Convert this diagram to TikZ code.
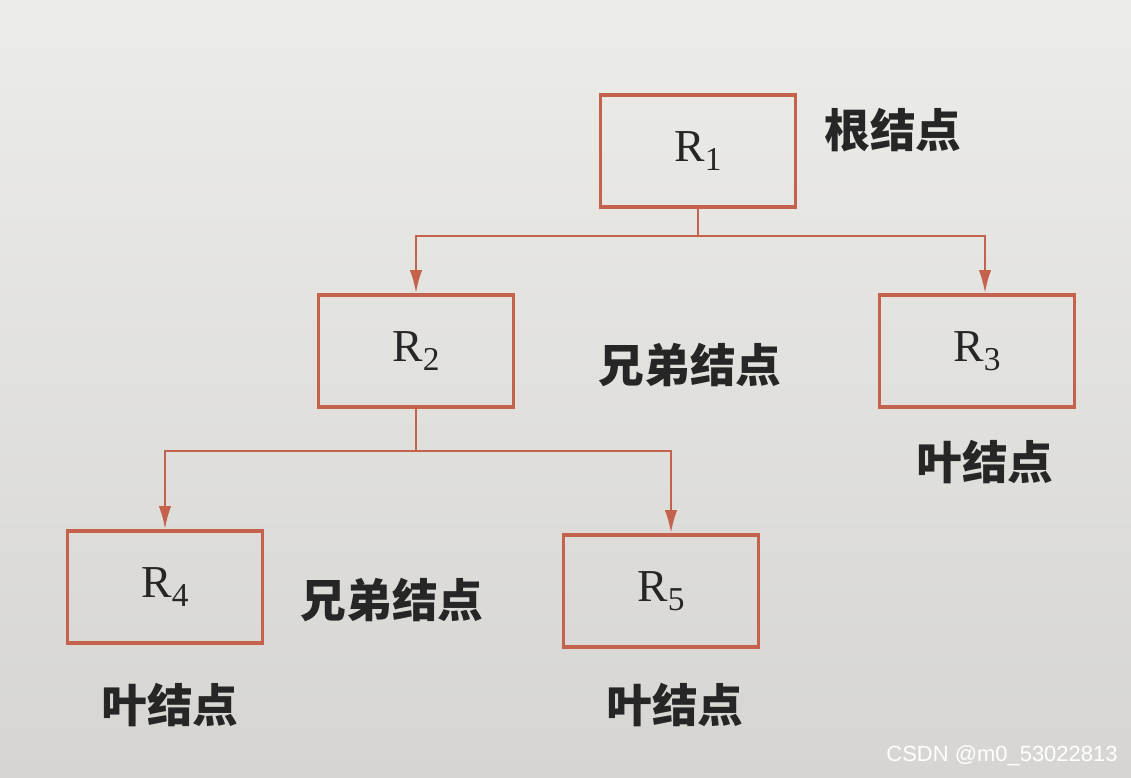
\documentclass[tikz,border=0pt]{standalone}
\usepackage{fontspec}
\setmainfont{Liberation Serif}
\newfontfamily\cjk{Noto Sans CJK SC}
\newfontfamily\wmfont{Liberation Sans}
\usetikzlibrary{arrows.meta}
\definecolor{boxred}{RGB}{196,98,78}
\definecolor{inkdark}{RGB}{38,38,38}
\definecolor{papertop}{RGB}{236,236,233}
\definecolor{paperbot}{RGB}{214,213,209}
\newcommand{\Rsub}[1]{R\raisebox{-0.45ex}{\fontsize{19}{20}\selectfont #1}}

\begin{document}
\begin{tikzpicture}[
    x=0.02cm, y=-0.02cm, >={Latex[length=13pt, width=7pt]},
    bx/.style={rectangle, draw=boxred, line width=2.2pt, minimum width=3.9cm,
               minimum height=2.24cm, font=\fontsize{26}{28}\selectfont, text=inkdark},
    lbl/.style={font=\cjk\bfseries\fontsize{26}{28}\selectfont, text=inkdark, inner sep=0pt},
    ln/.style={draw=boxred, line width=1.3pt},
    arr/.style={->, ln}
]
\shade[top color=papertop, bottom color=paperbot] (0,0) rectangle (1131,777);
\useasboundingbox (0,0) rectangle (1131,777);

\node[bx] (r1) at (698,151) {\Rsub{1}};
\node[bx] (r2) at (416,351) {\Rsub{2}};
\node[bx] (r3) at (977,351) {\Rsub{3}};
\node[bx] (r4) at (165,587) {\Rsub{4}};
\node[bx] (r5) at (661,591) {\Rsub{5}};

\node[lbl] (t1) at (893,130) {根结点};
\node[lbl] (t2) at (690,365) {兄弟结点};
\node[lbl] (t3) at (985,462) {叶结点};
\node[lbl] (t4) at (392,600) {兄弟结点};
\node[lbl] (t5) at (170,705) {叶结点};
\node[lbl] (t6) at (675,705) {叶结点};
\node[font=\wmfont\fontsize{12.5}{14}\selectfont, text=white] (wm) at (1002,756) {CSDN @m0\_53022813};

\draw[ln] (r1.south) -- ++(0,27) coordinate (j1);
\draw[arr] (j1) -| (r2.north);  \draw[arr] (j1) -| ([xshift=0.16cm]r3.north);
\draw[ln] (r2.south) -- ++(0,42) coordinate (j2);
\draw[arr] (j2) -| (r4.north);  \draw[arr] (j2) -| ([xshift=0.2cm]r5.north);
\end{tikzpicture}
\end{document}
